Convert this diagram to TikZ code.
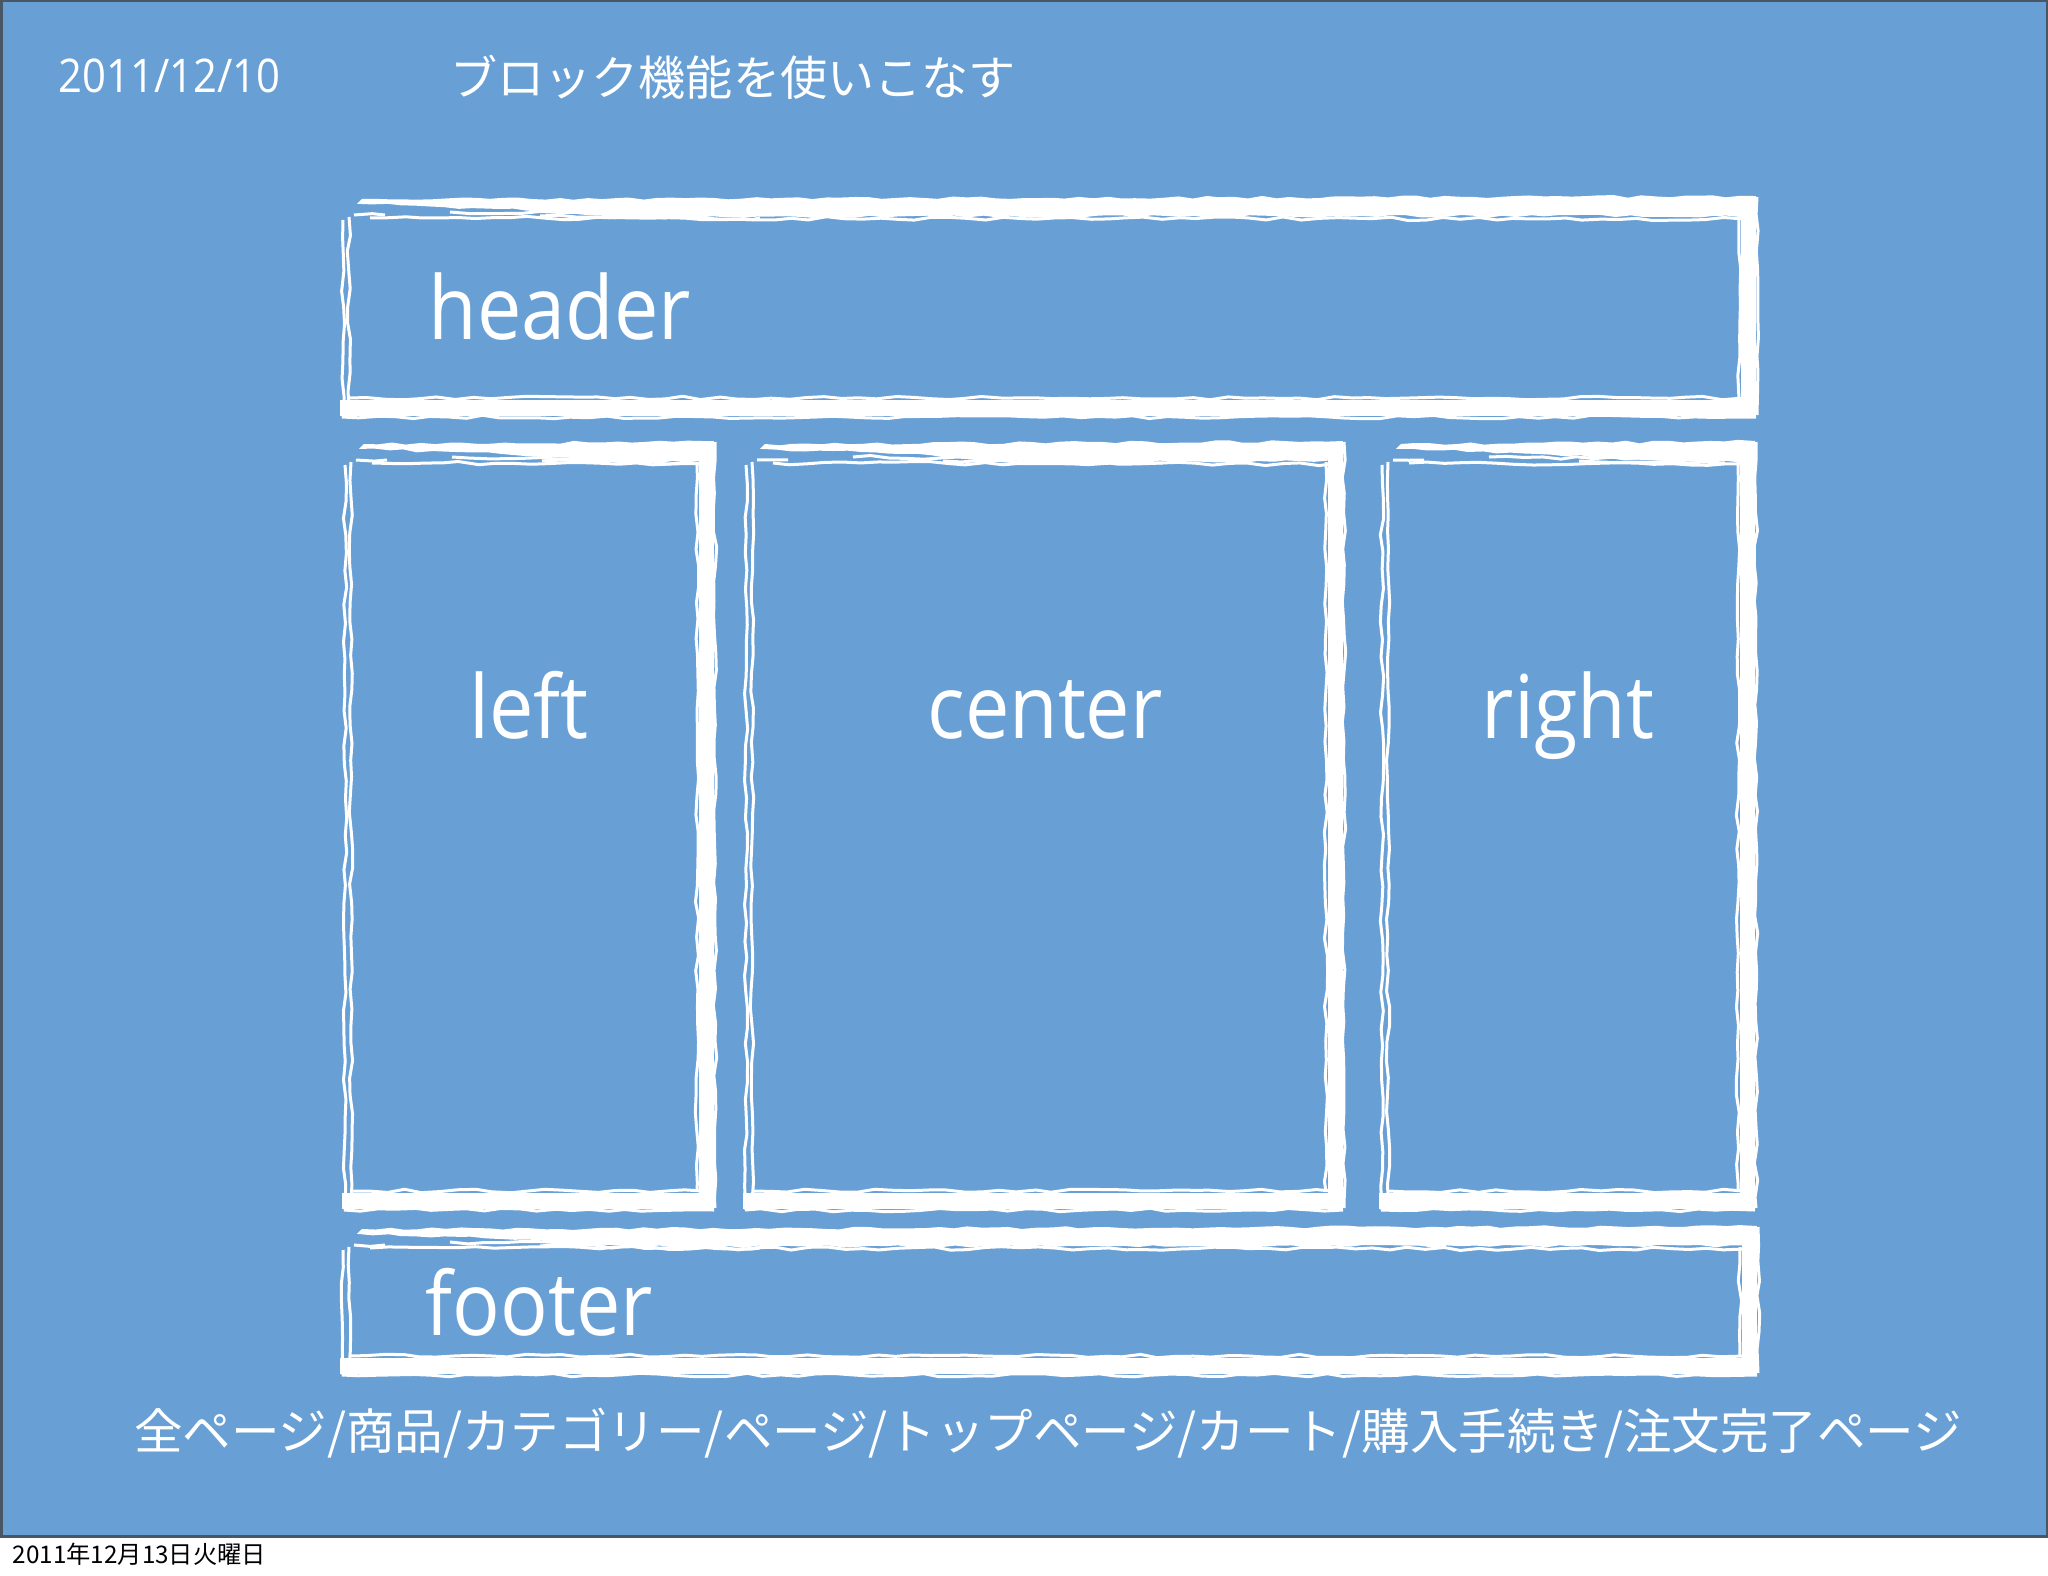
\documentclass[tikz,border=0pt]{standalone}
\usepackage{fontspec}
\usetikzlibrary{decorations.pathmorphing}
\newfontfamily\gillfont[FakeStretch=0.9]{Open Sans}
\newfontfamily\jpfont{Noto Sans CJK JP}
\definecolor{slideblue}{RGB}{104,159,213}
\definecolor{slideedge}{RGB}{72,86,102}
\tikzset{
  brush/.style={draw=white, line cap=butt},
  brushthin/.style={draw=white, line width=0.03cm, decorate,
     decoration={random steps, segment length=5pt, amplitude=0.5pt}},
  brushfill/.style={fill=white, decorate,
     decoration={random steps, segment length=4pt, amplitude=0.4pt}},
  boxlabel/.style={text=white, inner sep=0pt, font=\gillfont\fontsize{25pt}{30pt}\selectfont},
  jptext/.style={text=white, inner sep=0pt, font=\jpfont\fontsize{13.4pt}{16pt}\selectfont},
}
\newcommand\sketchbox[4]{%
  % tapered top band
  \fill[brushfill] ({#1+22},{#2+4}) -- ({#3},{#2+1}) -- ({#3},{#2+21})
     -- ({#1+300},{#2+22}) -- ({#1+160},{#2+14}) -- ({#1+22},{#2+9}) -- cycle;
  \draw[brushthin] ({#1+110},{#2+17}) -- ({min(#1+330,#3-30)},{#2+19});
  \draw[brushthin] ({#1+200},{#2+21}) -- ({min(#1+420,#3-30)},{#2+23});
  \draw[brushthin] ({#1+14},{#2+20}) -- ({#1+45},{#2+20});
  \draw[brushthin] ({#1+30},{#2+23}) -- ({#3-12},{#2+24});
  % right band
  \draw[brush, line width=0.15cm] ({#3-8},{#2+4}) -- ({#3-8},{#4});
  \draw[brushthin] ({#3-17},{#2+22}) -- ({#3-17},{#4-18});
  \draw[brushthin] ({#3+1},{#2+2}) -- ({#3+1},{#4-2});
  % bottom band
  \draw[brush, line width=0.16cm] ({#1},{#4-9}) -- ({#3},{#4-9});
  \draw[brushthin] ({#1+10},{#4-19}) -- ({#3-12},{#4-19});
  \draw[brushthin] ({#1+2},{#4}) -- ({#3},{#4});
  % left thin double stroke
  \draw[brushthin] ({#1+3},{#2+25}) -- ({#1+3},{#4});
  \draw[brushthin] ({#1+9},{#2+22}) -- ({#1+9},{#4-8});
}
\begin{document}
\begin{tikzpicture}[x=0.01cm,y=-0.01cm]
\pgfmathsetseed{11}
\useasboundingbox (0,0) rectangle (2048,1576);
\fill[white] (0,0) rectangle (2048,1576);
\fill[slideblue] (0,0) rectangle (2048,1536);
\draw[slideedge, line width=0.03cm] (1,1) rectangle (2047,1536);

% title line
\node[anchor=base west, text=white, inner sep=0pt,
      font=\gillfont\fontsize{13.2pt}{15pt}\selectfont] (date) at (58,93) {2011/12/10};
\node[jptext] (title) at (733,77) {ブロック機能を使いこなす};

% sketch boxes
\sketchbox{340}{195}{1756}{417}
\sketchbox{342}{440}{714}{1210}
\sketchbox{743}{440}{1343}{1210}
\sketchbox{1379}{440}{1755}{1210}
\sketchbox{340}{1225}{1757}{1375}

% labels
\node[boxlabel, anchor=base west] (header) at (428,340) {header};
\node[boxlabel, anchor=base] (left) at (529,738) {left};
\node[boxlabel, anchor=base] (center) at (1045,738) {center};
\node[boxlabel, anchor=base] (right) at (1568,738) {right};
\node[boxlabel, anchor=base west] (footer) at (425,1335) {footer};

% caption
\node[jptext, font=\jpfont\fontsize{13.8pt}{16pt}\selectfont] (pages) at (1048,1433) {全ページ/商品/カテゴリー/ページ/トップページ/カート/購入手続き/注文完了ページ};

% print date
\node[anchor=west, inner sep=0pt, text=black,
      font=\jpfont\fontsize{6.9pt}{8pt}\selectfont] (printdate) at (12,1554) {2011年12月13日火曜日};
\end{tikzpicture}
\end{document}
